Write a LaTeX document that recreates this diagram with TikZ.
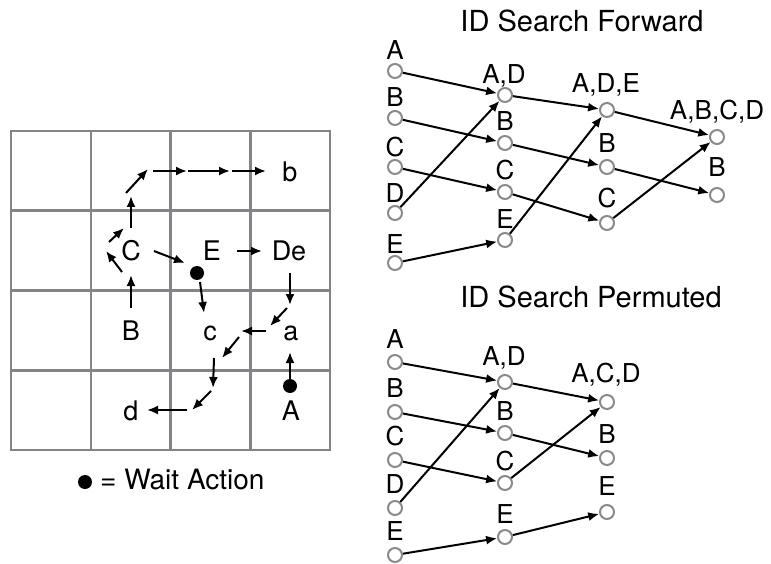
\documentclass[tikz,border=0pt]{standalone}
\usepackage{fontspec}
\setmainfont{TeX Gyre Heros}
\usetikzlibrary{arrows.meta}
\definecolor{gridgray}{RGB}{130,132,136}
\definecolor{ringgray}{RGB}{138,138,140}

\begin{document}
\begin{tikzpicture}[x=1pt, y=-1pt,
    move/.style={-{Latex[length=11pt,width=9pt]}, line width=2pt},
    ring/.style={circle, draw=ringgray, fill=white, line width=2pt, minimum size=14pt, inner sep=0pt},
    tag/.style={anchor=base, inner sep=0pt, font=\fontsize{26}{30}\selectfont},
    gtag/.style={anchor=base, inner sep=0pt, font=\fontsize{27}{32}\selectfont},
    head/.style={anchor=base, inner sep=0pt, font=\fontsize{29}{34}\selectfont},
    waitdot/.style={circle, fill=black, minimum size=14pt, inner sep=0pt}]
    \useasboundingbox (0,0) rectangle (771,564);

    % Grid
    \foreach \i in {0,...,4} {
        \draw[gridgray, line width=2.5pt, line cap=rect] (11+79.75*\i,131) -- (11+79.75*\i,450);
        \draw[gridgray, line width=2.5pt, line cap=rect] (11,131+79.75*\i) -- (330,131+79.75*\i);
    }

    % Agent labels in the grid
    \node[gtag] (gb) at (290,182) {b};
    \node[gtag] (gC) at (131,261) {C};
    \node[gtag] (gE) at (212,261) {E};
    \node[gtag] (gDe) at (289,261) {De};
    \node[gtag] (gB) at (131,340) {B};
    \node[gtag] (gc) at (210,340) {c};
    \node[gtag] (ga) at (291,340) {a};
    \node[gtag] (gd) at (131,420) {d};
    \node[gtag] (gA) at (291,420) {A};

    % Wait actions
    \node[waitdot] (dotE) at (197,273) {};
    \node[waitdot] (dotA) at (290,386) {};

    % Moves
    \foreach \xa/\ya/\xb/\yb in {131/308/131/275, 122/272/106/251, 109/242/124/228,
        131/228/131/196, 126/193/148/169, 153/171/187/171, 188/171/230/171,
        232/171/266/171, 154/251/185/263, 200/282/204/313, 237/251/262/251,
        290/273/290/305, 287/308/270/326, 266/331/241/331, 239/337/222/358,
        214/358/213/388, 211/391/192/410, 187/410/147/410}
        \draw[move] (\xa,\ya) -- (\xb,\yb);
    \draw[move] (dotA.north) -- (290,352);

    % Legend
    \node[waitdot] (key) at (85,482) {};
    \node[anchor=base west, inner sep=0pt, font=\fontsize{28}{32}\selectfont] (keytxt) at (100,489) {= Wait Action};

    % ID Search Forward
    \node[head] (fwd) at (582,32) {ID Search Forward};
    \node[ring] (f0A) at (395,71) {};
    \node[ring] (f0B) at (395,118) {};
    \node[ring] (f0C) at (395,167) {};
    \node[ring] (f0D) at (395,213) {};
    \node[ring] (f0E) at (395,263) {};
    \node[ring] (f1AD) at (505,95) {};
    \node[ring] (f1B) at (505,143) {};
    \node[ring] (f1C) at (505,192) {};
    \node[ring] (f1E) at (505,240) {};
    \node[ring] (f2ADE) at (607,110) {};
    \node[ring] (f2B) at (607,167) {};
    \node[ring] (f2C) at (607,223) {};
    \node[ring] (f3ABCD) at (717,137) {};
    \node[ring] (f3B) at (717,195) {};
    \node[tag] (f0Atag) at (395,60) {A};
    \node[tag] (f0Btag) at (395,107) {B};
    \node[tag] (f0Ctag) at (395,157) {C};
    \node[tag] (f0Dtag) at (395,203) {D};
    \node[tag] (f0Etag) at (395,253) {E};
    \node[tag] (f1ADtag) at (504,84) {A,D};
    \node[tag] (f1Btag) at (505,131) {B};
    \node[tag] (f1Ctag) at (505,180) {C};
    \node[tag] (f1Etag) at (505,229) {E};
    \node[tag] (f2ADEtag) at (606,93) {A,D,E};
    \node[tag] (f2Btag) at (607,153) {B};
    \node[tag] (f2Ctag) at (607,208) {C};
    \node[tag] (f3ABCDtag) at (717,120) {A,B,C,D};
    \node[tag] (f3Btag) at (717,177) {B};
    \foreach \a/\b in {f0A/f1AD, f0B/f1B, f0C/f1C, f0D/f1AD, f0E/f1E,
        f1AD/f2ADE, f1B/f2B, f1C/f2C, f1E/f2ADE,
        f2ADE/f3ABCD, f2B/f3B, f2C/f3ABCD}
        \draw[move] (\a) -- (\b);

    % ID Search Permuted
    \node[head] (perm) at (591,307) {ID Search Permuted};
    \node[ring] (p0A) at (395,362) {};
    \node[ring] (p0B) at (395,412) {};
    \node[ring] (p0C) at (395,460) {};
    \node[ring] (p0D) at (395,508) {};
    \node[ring] (p0E) at (395,555) {};
    \node[ring] (p1AD) at (505,382) {};
    \node[ring] (p1B) at (505,433) {};
    \node[ring] (p1C) at (505,483) {};
    \node[ring] (p1E) at (505,537) {};
    \node[ring] (p2ACD) at (607,402) {};
    \node[ring] (p2B) at (607,458) {};
    \node[ring] (p2E) at (607,512) {};
    \node[tag] (p0Atag) at (395,348) {A};
    \node[tag] (p0Btag) at (395,397) {B};
    \node[tag] (p0Ctag) at (395,445) {C};
    \node[tag] (p0Dtag) at (395,493) {D};
    \node[tag] (p0Etag) at (395,540) {E};
    \node[tag] (p1ADtag) at (504,365) {A,D};
    \node[tag] (p1Btag) at (505,420) {B};
    \node[tag] (p1Ctag) at (505,470) {C};
    \node[tag] (p1Etag) at (505,523) {E};
    \node[tag] (p2ACDtag) at (606,382) {A,C,D};
    \node[tag] (p2Btag) at (607,443) {B};
    \node[tag] (p2Etag) at (607,495) {E};
    \foreach \a/\b in {p0A/p1AD, p0B/p1B, p0C/p1C, p0D/p1AD, p0E/p1E,
        p1AD/p2ACD, p1B/p2B, p1C/p2ACD, p1E/p2E}
        \draw[move] (\a) -- (\b);
\end{tikzpicture}
\end{document}
